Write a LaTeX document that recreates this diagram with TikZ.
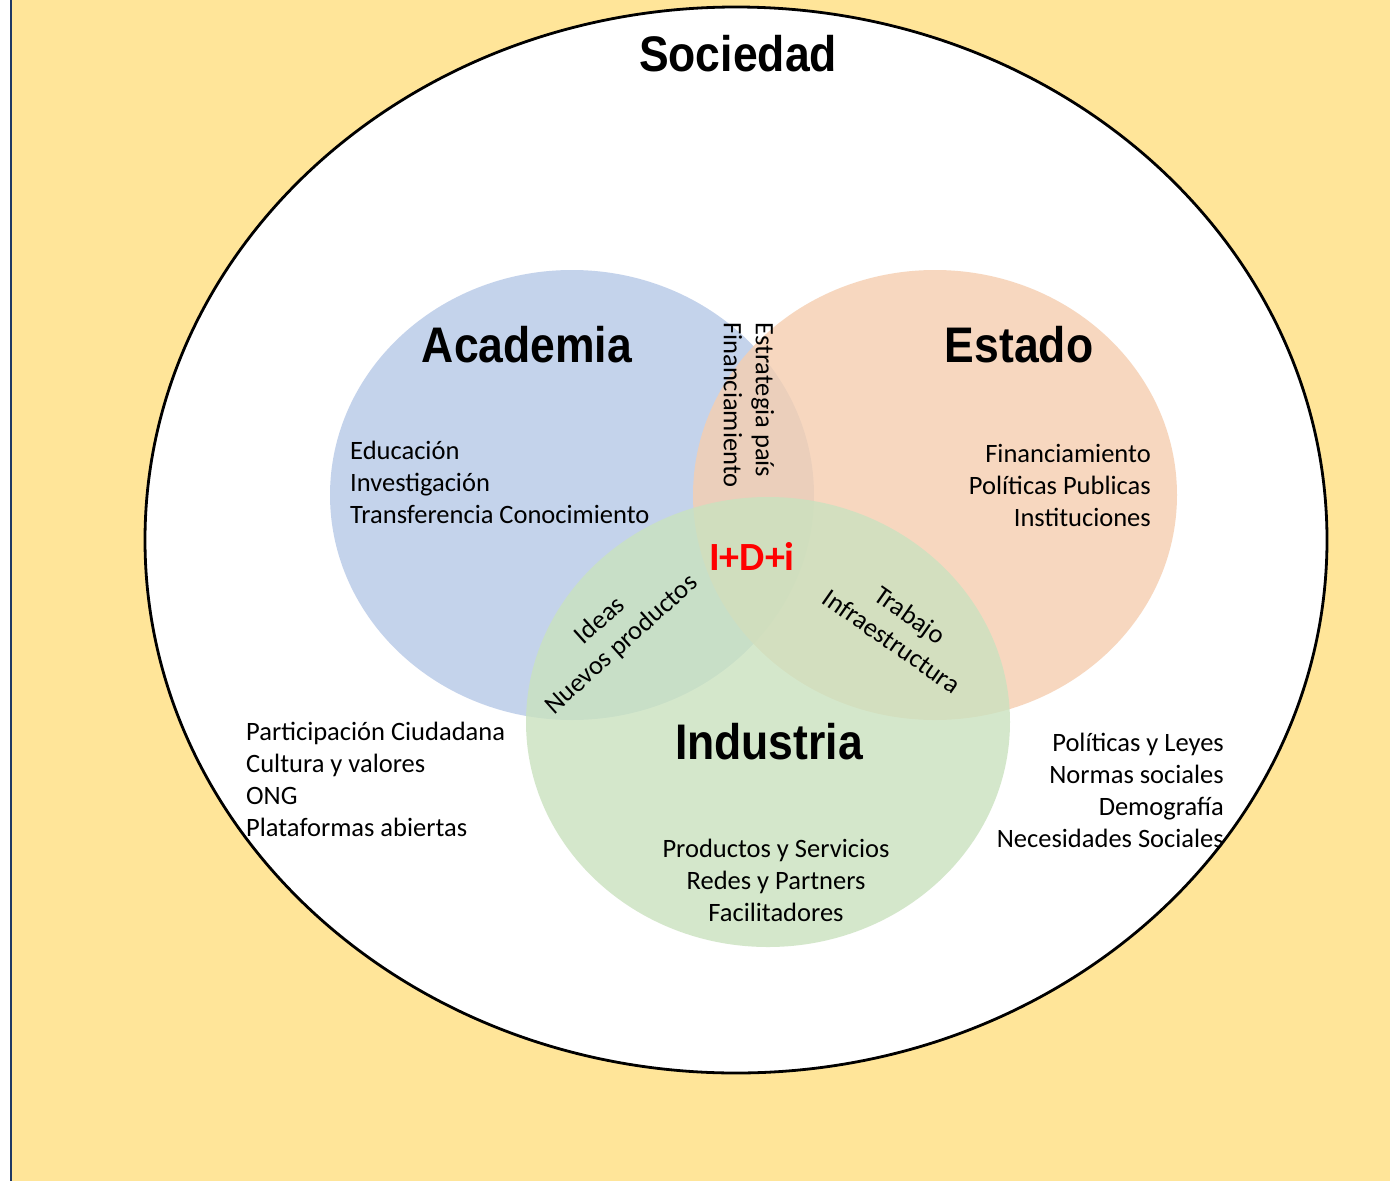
\documentclass[tikz,border=0pt]{standalone}
\usepackage{fontspec}
\usepackage{graphicx}
\setmainfont{Carlito}
\newfontfamily\headfont{Liberation Sans}
\definecolor{bgyel}{HTML}{FFE599}
\definecolor{navyline}{HTML}{1F3864}
\definecolor{acblue}{RGB}{182,200,231}
\definecolor{esorange}{RGB}{245,206,176}
\definecolor{ingreen}{RGB}{202,226,191}
\newcommand\hdtext[1]{\scalebox{0.89}[1]{\headfont\bfseries\fontsize{50}{60}\selectfont #1}}
\begin{document}
\begin{tikzpicture}[x=1pt,y=-1pt,
  body/.style={font=\fontsize{26.5}{32}\selectfont, inner sep=0pt},
  head/.style={inner sep=0pt},
  venn/.style={fill opacity=0.8}]
\useasboundingbox (0,0) rectangle (1390,1181);
\fill[white] (0,0) rectangle (1390,1181);
\fill[bgyel] (11,0) rectangle (1390,1181);
\draw[navyline, line width=2.5pt] (11,0) -- (11,1181);
% society
\draw[fill=white, line width=2.8pt] (736,540) ellipse [x radius=591, y radius=533];
% venn
\fill[acblue, venn] (572,495) ellipse [x radius=242, y radius=225];
\fill[esorange, venn] (935,495) ellipse [x radius=242, y radius=225];
\fill[ingreen, venn] (768,722) ellipse [x radius=242, y radius=225];
% headings
\node[head] (soc) at (738,54) {\hdtext{Sociedad}};
\node[head] (aca) at (527,345) {\hdtext{Academia}};
\node[head] (est) at (1019,345) {\hdtext{Estado}};
\node[head] (ind) at (769,742) {\hdtext{Industria}};
\node[inner sep=0pt, text=red, font=\fontsize{40}{48}\selectfont\bfseries] (idi) at (752,556) {I+D+i};
% lists
\node[body, anchor=west, align=left] (acalist) at (350,482) {Educación\\Investigación\\Transferencia Conocimiento};
\node[body, anchor=east, align=right] (estlist) at (1151,485) {Financiamiento\\Políticas Publicas\\Instituciones};
\node[body, align=center] (indlist) at (776,880) {Productos y Servicios\\Redes y Partners\\Facilitadores};
\node[body, anchor=west, align=left] (socleft) at (246,779) {Participación Ciudadana\\Cultura y valores\\ONG\\Plataformas abiertas};
\node[body, anchor=east, align=right] (socright) at (1224,790) {Políticas y Leyes\\Normas sociales\\Demografía\\Necesidades Sociales};
% intersections
\node[body, anchor=west, align=left, rotate=-90] (ae) at (749,322) {Estrategia país\\Financiamiento};
\node[body, align=center, rotate=42] (ai) at (611,633) {Ideas\\Nuevos productos};
\node[body, align=center, rotate=-35] (ei) at (901,628) {Trabajo\\Infraestructura};
\end{tikzpicture}
\end{document}
